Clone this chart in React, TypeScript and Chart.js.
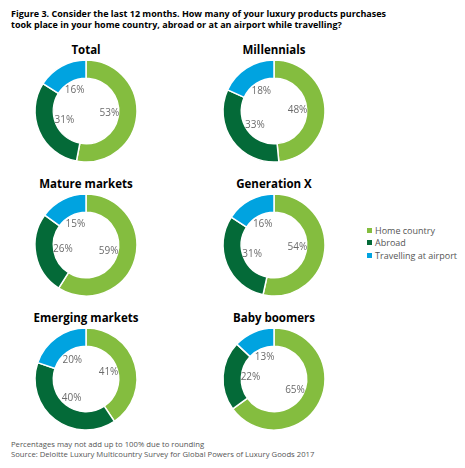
import React, { useEffect, useRef } from "react";
import { Chart, registerables } from "chart.js";

Chart.register(...registerables);

const groups = ["Total", "Millennials", "Mature markets", "Generation X", "Emerging markets", "Baby boomers"];
const homeCountry = [53, 48, 59, 54, 41, 65];
const abroad = [31, 33, 26, 31, 40, 22];
const airport = [16, 18, 15, 16, 20, 13];
const seriesLabels = ["Home country", "Abroad", "Travelling at airport"];
const seriesColors = ["#84bd3f", "#046a38", "#00a3e0"];

const centersX = [86, 274];
const centersY = [111, 245, 379];
const SIZE = 120;

const labelPlugin = {
  id: "ringLabels",
  afterDatasetsDraw(chart: any) {
    const ctx = chart.ctx;
    const meta = chart.getDatasetMeta(0);
    const data = chart.data.datasets[0].data;
    ctx.save();
    ctx.font = "10px 'Open Sans'";
    ctx.fillStyle = "#6b6b6b";
    ctx.textAlign = "center";
    ctx.textBaseline = "middle";
    meta.data.forEach((arc: any, i: number) => {
      const p = arc.getProps(["x", "y", "startAngle", "endAngle", "innerRadius"], true);
      const mid = (p.startAngle + p.endAngle) / 2;
      const r = p.innerRadius * 0.72;
      ctx.fillText(data[i] + "%", p.x + Math.cos(mid) * r, p.y + Math.sin(mid) * r);
    });
    ctx.restore();
  },
};

function Donut({ idx }: { idx: number }) {
  const ref = useRef<HTMLCanvasElement>(null);
  useEffect(() => {
    const chart = new Chart(ref.current!, {
      type: "doughnut",
      data: {
        labels: seriesLabels,
        datasets: [
          {
            data: [homeCountry[idx], abroad[idx], airport[idx]],
            backgroundColor: seriesColors,
            borderColor: "#ffffff",
            borderWidth: 1.5,
          },
        ],
      },
      options: {
        responsive: false,
        animation: false,
        radius: 51,
        cutout: 38,
        layout: { padding: 0 },
        plugins: { legend: { display: false }, tooltip: { enabled: false } },
      },
      plugins: [labelPlugin],
    });
    return () => chart.destroy();
  }, [idx]);
  const cx = centersX[idx % 2];
  const cy = centersY[Math.floor(idx / 2)];
  return (
    <>
      <div
        style={{
          position: "absolute",
          left: cx - 80,
          width: 160,
          top: cy - 70,
          textAlign: "center",
          fontFamily: "'Open Sans'",
          fontWeight: 700,
          fontSize: 11.5,
          lineHeight: "18px",
          color: "#000",
        }}
      >
        {groups[idx]}
      </div>
      <canvas
        ref={ref}
        width={SIZE}
        height={SIZE}
        style={{ position: "absolute", left: cx - SIZE / 2, top: cy - SIZE / 2, width: SIZE, height: SIZE }}
      />
    </>
  );
}

export default function App() {
  return (
    <div
      style={{
        position: "fixed",
        left: 0,
        top: 0,
        width: 465,
        height: 468,
        background: "#fff",
        fontFamily: "'Open Sans'",
        overflow: "hidden",
      }}
    >
      <div
        style={{
          position: "absolute",
          left: 11,
          top: 9,
          fontWeight: 700,
          fontSize: 9,
          lineHeight: "10.5px",
          color: "#000",
          whiteSpace: "nowrap",
        }}
      >
        Figure 3. Consider the last 12 months. How many of your luxury products purchases
        <br />
        took place in your home country, abroad or at an airport while travelling?
      </div>
      {groups.map((_, i) => (
        <Donut key={i} idx={i} />
      ))}
      <div style={{ position: "absolute", left: 367, top: 224 }}>
        {seriesLabels.map((l, i) => (
          <div key={l} style={{ display: "flex", alignItems: "center", height: 12.5, fontSize: 9, color: "#555" }}>
            <span style={{ width: 5, height: 5, background: seriesColors[i], marginRight: 3, display: "inline-block" }} />
            {l}
          </div>
        ))}
      </div>
      <div
        style={{
          position: "absolute",
          left: 11,
          top: 439,
          fontSize: 7.7,
          lineHeight: "10px",
          color: "#555",
          whiteSpace: "nowrap",
        }}
      >
        Percentages may not add up to 100% due to rounding
        <br />
        Source: Deloitte Luxury Multicountry Survey for Global Powers of Luxury Goods 2017
      </div>
    </div>
  );
}
